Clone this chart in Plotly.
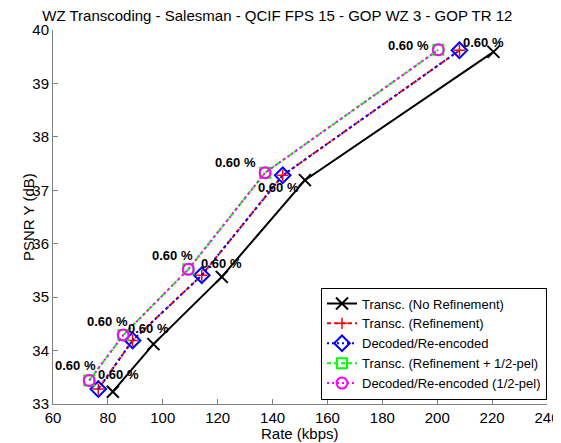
import plotly.graph_objects as go

# Data (Rate kbps, PSNR Y dB)
no_ref_rate = [81.8, 96.6, 121.5, 151.8, 220.5]
no_ref_psnr = [33.23, 34.12, 35.38, 37.19, 39.59]

ref_rate = [76.5, 89.0, 114.2, 143.7, 208.1]
ref_psnr = [33.28, 34.19, 35.41, 37.28, 39.62]

dec_rate = [76.5, 89.0, 114.2, 143.7, 208.1]
dec_psnr = [33.28, 34.19, 35.41, 37.28, 39.62]

refh_rate = [73.2, 85.6, 109.3, 137.3, 200.4]
refh_psnr = [33.44, 34.29, 35.52, 37.33, 39.63]

dech_rate = [73.2, 85.6, 109.3, 137.3, 200.4]
dech_psnr = [33.44, 34.29, 35.52, 37.33, 39.63]

x_ticks = [60, 80, 100, 120, 140, 160, 180, 200, 220, 240]
y_ticks = [33, 34, 35, 36, 37, 38, 39, 40]

label_text = "0.60 %"
# pixel offsets of labels relative to points (green set and blue set)
left_shifts = [(-14, 15), (-16, 14), (-16, 14), (-30, 10), (-30, 4)]
right_shifts = [(20, 15), (16, 12), (20, 12), (-4, -12), (24, 8)]

series_names = [
    "Transc. (No Refinement)",
    "Transc. (Refinement)",
    "Decoded/Re-encoded",
    "Transc. (Refinement + 1/2-pel)",
    "Decoded/Re-encoded (1/2-pel)",
]

FONT = "Liberation Sans, Arial, sans-serif"

fig = go.Figure()
fig.add_trace(go.Scatter(x=no_ref_rate, y=no_ref_psnr, name=series_names[0], mode="lines+markers",
                         line=dict(color="black", width=2, dash="solid"),
                         marker=dict(symbol="x-thin", size=12, line=dict(color="black", width=2))))
fig.add_trace(go.Scatter(x=ref_rate, y=ref_psnr, name=series_names[1], mode="lines+markers",
                         line=dict(color="red", width=2, dash="4px,3px"),
                         marker=dict(symbol="cross-thin", size=8, line=dict(color="red", width=1.5))))
fig.add_trace(go.Scatter(x=dec_rate, y=dec_psnr, name=series_names[2], mode="lines+markers",
                         line=dict(color="blue", width=2, dash="2px,3px"),
                         marker=dict(symbol="diamond-open", size=12, color="blue", line=dict(width=2))))
fig.add_trace(go.Scatter(x=refh_rate, y=refh_psnr, name=series_names[3], mode="lines+markers",
                         line=dict(color="#00ff00", width=2, dash="4px,3px"),
                         marker=dict(symbol="square-open", size=10, color="#00ff00", line=dict(width=2))))
fig.add_trace(go.Scatter(x=dech_rate, y=dech_psnr, name=series_names[4], mode="lines+markers",
                         line=dict(color="magenta", width=2, dash="2px,3px"),
                         marker=dict(symbol="circle-open", size=11, color="magenta", line=dict(width=2))))

annotations = []
for xr, yr, (dx, dy) in zip(refh_rate, refh_psnr, left_shifts):
    annotations.append(dict(x=xr, y=yr, text="<b>" + label_text + "</b>", showarrow=False, xshift=dx, yshift=dy,
                            font=dict(family=FONT, size=13, color="black")))
for xr, yr, (dx, dy) in zip(dec_rate, dec_psnr, right_shifts):
    annotations.append(dict(x=xr, y=yr, text="<b>" + label_text + "</b>", showarrow=False, xshift=dx, yshift=dy,
                            font=dict(family=FONT, size=13, color="black")))

# axis titles as annotations
annotations.append(dict(x=0.5, y=0, xref="paper", yref="paper", text="Rate (kbps)", showarrow=False,
                        xanchor="center", yanchor="top", yshift=-19,
                        font=dict(family=FONT, size=15, color="black")))
annotations.append(dict(x=0, y=0.5, xref="paper", yref="paper", text="PSNR Y (dB)", showarrow=False,
                        xanchor="center", yanchor="middle", xshift=-25, textangle=-90,
                        font=dict(family=FONT, size=15, color="black")))

axis_common = dict(showline=True, linecolor="#808080", linewidth=1, mirror=False, showgrid=False,
                   zeroline=False, ticks="inside", ticklen=5, tickcolor="#808080", automargin=False,
                   tickfont=dict(family=FONT, size=15, color="black"))

# page body has an 8px margin, so the figure is sized/offset accordingly
fig.update_layout(
    width=553, height=435,
    margin=dict(l=45, r=14, t=22, b=39),
    paper_bgcolor="white", plot_bgcolor="white",
    font=dict(family=FONT, color="black"),
    title=dict(text="WZ Transcoding - Salesman - QCIF FPS 15 - GOP WZ 3 - GOP TR 12",
               x=0.487, xanchor="center", y=0.995, yanchor="top", pad=dict(t=0, b=0),
               automargin=False,
               font=dict(size=15, color="black")),
    xaxis=dict(range=[60, 240], tickvals=x_ticks, **axis_common),
    yaxis=dict(range=[33, 40], tickvals=y_ticks, **axis_common),
    legend=dict(x=1, y=0.012, xanchor="right", yanchor="bottom",
                bgcolor="white", bordercolor="black", borderwidth=1,
                font=dict(size=13, color="black"), tracegroupgap=0, itemwidth=30),
    annotations=annotations,
    showlegend=True,
)

fig.write_html("out.html")
